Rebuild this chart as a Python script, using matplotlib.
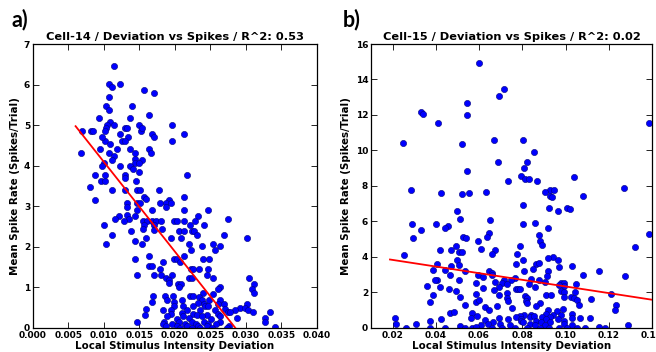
#!/usr/bin/env python3
"""Deviation vs spikes scatter, two cells"""

import numpy as np
import matplotlib
matplotlib.use('Agg')
import matplotlib.pyplot as plt

# cell-14, panel a)
cell14_x = [
  0.0114, 0.0107, 0.0123, 0.0111, 0.0157, 0.0171, 0.0107, 0.0103, 0.0107, 0.0139,
  0.0164, 0.0093, 0.0136, 0.0109, 0.0114, 0.0104, 0.0196, 0.0149, 0.0152, 0.0154,
  0.0103, 0.0102, 0.0069, 0.0081, 0.0085, 0.0129, 0.0132, 0.0122, 0.0134, 0.0126,
  0.0129, 0.0102, 0.0097, 0.0168, 0.0171, 0.0196, 0.0212, 0.0109, 0.0067, 0.0095,
  0.0107, 0.0118, 0.0136, 0.0143, 0.0164, 0.0166, 0.0114, 0.0111, 0.0144, 0.0153,
  0.0144, 0.0149, 0.0100, 0.0097, 0.0122, 0.0136, 0.0141, 0.0149, 0.0129, 0.0088,
  0.0102, 0.0129, 0.0217, 0.0096, 0.0101, 0.0145, 0.0080, 0.0111, 0.0130, 0.0146,
  0.0151, 0.0178, 0.0088, 0.0212, 0.0157, 0.0159, 0.0191, 0.0188, 0.0179, 0.0194,
  0.0146, 0.0151, 0.0132, 0.0187, 0.0132, 0.0146, 0.0167, 0.0213, 0.0246, 0.0132,
  0.0121, 0.0144, 0.0232, 0.0116, 0.0135, 0.0275, 0.0128, 0.0155, 0.0160, 0.0168,
  0.0173, 0.0181, 0.0198, 0.0203, 0.0213, 0.0228, 0.0100, 0.0157, 0.0170, 0.0221,
  0.0241, 0.0155, 0.0171, 0.0182, 0.0206, 0.0213, 0.0224, 0.0227, 0.0138, 0.0231,
  0.0111, 0.0269, 0.0302, 0.0159, 0.0195, 0.0208, 0.0143, 0.0103, 0.0154, 0.0253,
  0.0220, 0.0263, 0.0238, 0.0222, 0.0256, 0.0212, 0.0164, 0.0144, 0.0199, 0.0203,
  0.0240, 0.0248, 0.0183, 0.0207, 0.0163, 0.0168, 0.0179, 0.0223, 0.0225, 0.0234,
  0.0246, 0.0245, 0.0147, 0.0171, 0.0180, 0.0196, 0.0254, 0.0220, 0.0224, 0.0188,
  0.0191, 0.0304, 0.0311, 0.0191, 0.0204, 0.0208, 0.0206, 0.0263, 0.0260, 0.0308,
  0.0311, 0.0239, 0.0186, 0.0169, 0.0221, 0.0197, 0.0226, 0.0253, 0.0234, 0.0238,
  0.0248, 0.0263, 0.0189, 0.0210, 0.0168, 0.0199, 0.0232, 0.0241, 0.0261, 0.0269,
  0.0198, 0.0211, 0.0226, 0.0242, 0.0247, 0.0302, 0.0292, 0.0299, 0.0271, 0.0159,
  0.0183, 0.0194, 0.0217, 0.0235, 0.0256, 0.0284, 0.0303, 0.0274, 0.0277, 0.0310,
  0.0334, 0.0210, 0.0195, 0.0226, 0.0260, 0.0158, 0.0231, 0.0245, 0.0189, 0.0211,
  0.0238, 0.0263, 0.0220, 0.0203, 0.0251, 0.0327, 0.0327, 0.0146, 0.0184, 0.0206,
  0.0224, 0.0241, 0.0263, 0.0287, 0.0183, 0.0196, 0.0214, 0.0230, 0.0246, 0.0258,
  0.0188, 0.0203, 0.0217, 0.0232, 0.0245, 0.0276, 0.0341, 0.0207, 0.0224, 0.0235,
  0.0252, 0.0273,
]
cell14_y = [
  6.47, 6.01, 6.01, 5.93, 5.86, 5.78, 5.69, 5.46, 5.38, 5.46,
  5.24, 5.17, 5.17, 5.07, 5.01, 5.01, 5.01, 5.01, 4.86, 4.93,
  4.93, 4.85, 4.85, 4.85, 4.85, 4.93, 4.93, 4.77, 4.71, 4.62,
  4.62, 4.62, 4.70, 4.79, 4.71, 4.62, 4.77, 4.54, 4.31, 4.40,
  4.31, 4.40, 4.40, 4.31, 4.40, 4.31, 4.23, 4.15, 4.17, 4.15,
  4.07, 4.07, 4.07, 4.00, 4.00, 4.00, 3.92, 3.85, 3.78, 3.76,
  3.76, 3.70, 3.76, 3.62, 3.62, 3.62, 3.47, 3.39, 3.39, 3.39,
  3.39, 3.39, 3.16, 3.24, 3.24, 3.17, 3.16, 3.07, 3.07, 3.07,
  3.07, 3.07, 3.07, 2.99, 2.99, 2.92, 2.92, 2.92, 2.92, 2.79,
  2.77, 2.77, 2.77, 2.69, 2.69, 2.69, 2.63, 2.63, 2.63, 2.63,
  2.63, 2.63, 2.63, 2.63, 2.63, 2.63, 2.55, 2.55, 2.55, 2.55,
  2.55, 2.44, 2.42, 2.44, 2.38, 2.38, 2.38, 2.38, 2.38, 2.30,
  2.30, 2.30, 2.22, 2.22, 2.22, 2.22, 2.15, 2.07, 2.07, 2.07,
  2.07, 2.01, 2.01, 1.93, 1.93, 1.78, 1.77, 1.70, 1.70, 1.70,
  1.70, 1.70, 1.62, 1.62, 1.54, 1.54, 1.45, 1.45, 1.45, 1.45,
  1.45, 1.31, 1.31, 1.31, 1.31, 1.31, 1.23, 1.23, 1.23, 1.23,
  1.19, 1.23, 1.09, 1.11, 1.09, 1.09, 1.01, 1.01, 0.95, 0.95,
  0.86, 0.86, 0.78, 0.78, 0.78, 0.78, 0.78, 0.85, 0.76, 0.70,
  0.70, 0.70, 0.70, 0.70, 0.63, 0.63, 0.62, 0.58, 0.58, 0.58,
  0.53, 0.53, 0.53, 0.53, 0.53, 0.58, 0.49, 0.49, 0.48, 0.48,
  0.45, 0.45, 0.45, 0.45, 0.45, 0.45, 0.45, 0.39, 0.39, 0.39,
  0.39, 0.37, 0.35, 0.35, 0.35, 0.33, 0.33, 0.33, 0.29, 0.29,
  0.29, 0.29, 0.25, 0.22, 0.22, 0.25, 0.16, 0.16, 0.16, 0.16,
  0.16, 0.16, 0.16, 0.25, 0.11, 0.11, 0.11, 0.11, 0.11, 0.11,
  0.04, 0.04, 0.04, 0.04, 0.04, 0.04, 0.02, 0.00, 0.00, 0.00,
  0.00, 0.00,
]

# cell-15, panel b)
cell15_x = [
  0.0599, 0.0716, 0.0690, 0.0543, 0.0330, 0.0343, 0.0543, 0.0409, 0.1385, 0.0247,
  0.0670, 0.0801, 0.0522, 0.0852, 0.0821, 0.0687, 0.0809, 0.0543, 0.0793, 0.0814,
  0.0832, 0.0736, 0.0868, 0.1037, 0.1272, 0.0284, 0.0929, 0.0945, 0.0630, 0.0424,
  0.0523, 0.0552, 0.0907, 0.0929, 0.0937, 0.1079, 0.0804, 0.0925, 0.1005, 0.0963,
  0.1023, 0.0500, 0.0514, 0.0650, 0.0860, 0.0288, 0.0401, 0.0803, 0.0455, 0.0443,
  0.0330, 0.0918, 0.0295, 0.0526, 0.0540, 0.0647, 0.0638, 0.0875, 0.1388, 0.0593,
  0.0883, 0.0891, 0.0607, 0.0789, 0.0494, 0.1320, 0.0421, 0.0469, 0.0676, 0.0506,
  0.0520, 0.0254, 0.0662, 0.0775, 0.0940, 0.0918, 0.0965, 0.0500, 0.0801, 0.0404,
  0.0772, 0.0865, 0.0877, 0.0472, 0.0508, 0.1029, 0.0972, 0.0849, 0.0387, 0.0443,
  0.0809, 0.0918, 0.1156, 0.0648, 0.0537, 0.0659, 0.0662, 0.1079, 0.1274, 0.0596,
  0.0618, 0.0467, 0.0912, 0.0768, 0.0404, 0.0509, 0.0716, 0.0749, 0.0838, 0.0875,
  0.0395, 0.0676, 0.0903, 0.0585, 0.0704, 0.0729, 0.0829, 0.0980, 0.0991, 0.0995,
  0.0972, 0.1049, 0.0357, 0.0421, 0.0690, 0.0618, 0.0769, 0.0778, 0.0790, 0.0857,
  0.0980, 0.0991, 0.0461, 0.1044, 0.0494, 0.0667, 0.0729, 0.1025, 0.1037, 0.1116,
  0.1209, 0.0389, 0.0511, 0.0693, 0.0729, 0.0814, 0.0823, 0.0909, 0.0935, 0.0991,
  0.1054, 0.0585, 0.0375, 0.0585, 0.0599, 0.0732, 0.0818, 0.0823, 0.0880, 0.0682,
  0.0536, 0.1061, 0.1233, 0.1227, 0.0988, 0.0752, 0.0628, 0.0647, 0.0863, 0.0918,
  0.0959, 0.0467, 0.0486, 0.0569, 0.0590, 0.0909, 0.1030, 0.0810, 0.0841, 0.0940,
  0.0791, 0.0772, 0.0837, 0.0854, 0.0892, 0.0929, 0.0980, 0.1031, 0.1069, 0.1112,
  0.0211, 0.0423, 0.0562, 0.0690, 0.0736, 0.0792, 0.0911, 0.0963, 0.0627, 0.0373,
  0.0795, 0.0863, 0.0991, 0.0664, 0.0801, 0.0888, 0.0929, 0.0641, 0.0216, 0.0310,
  0.0610, 0.0696, 0.0742, 0.0837, 0.0860, 0.0906, 0.0991, 0.1030, 0.1289, 0.1153,
  0.0264, 0.0375, 0.0443, 0.0511, 0.0536, 0.0566, 0.0585, 0.0662, 0.0705, 0.0767,
  0.0821, 0.0883, 0.0922, 0.0968, 0.1007, 0.1053, 0.1092, 0.1184,
]
cell15_y = [
  14.93, 13.48, 13.08, 12.69, 12.16, 12.07, 11.99, 11.54, 11.54, 10.45,
  10.60, 10.60, 10.39, 9.92, 9.37, 9.37, 9.00, 8.85, 8.56, 8.38,
  8.38, 8.30, 8.30, 8.53, 7.91, 7.77, 7.77, 7.77, 7.68, 7.59,
  7.53, 7.59, 7.68, 7.44, 7.40, 7.44, 6.91, 6.76, 6.76, 6.61,
  6.68, 6.61, 6.14, 6.08, 5.89, 5.84, 5.84, 5.84, 5.74, 5.61,
  5.52, 5.61, 5.08, 5.14, 5.08, 5.38, 5.14, 5.23, 5.31, 4.89,
  4.91, 4.67, 4.46, 4.61, 4.61, 4.54, 4.42, 4.42, 4.42, 4.29,
  4.29, 4.14, 4.16, 4.16, 4.01, 3.97, 3.82, 3.82, 3.82, 3.58,
  3.63, 3.63, 3.67, 3.52, 3.54, 3.52, 3.44, 3.35, 3.29, 3.29,
  3.22, 3.22, 3.22, 3.20, 3.20, 3.11, 2.97, 2.97, 2.92, 3.01,
  2.88, 2.97, 2.92, 2.82, 2.73, 2.69, 2.73, 2.73, 2.77, 2.73,
  2.69, 2.60, 2.60, 2.54, 2.54, 2.47, 2.50, 2.54, 2.54, 2.39,
  2.43, 2.47, 2.37, 2.32, 2.32, 2.26, 2.22, 2.22, 2.22, 2.32,
  2.09, 2.03, 2.18, 2.03, 2.07, 2.13, 1.98, 1.75, 1.69, 1.66,
  1.94, 1.84, 1.75, 1.84, 1.69, 1.79, 1.69, 1.84, 1.84, 1.75,
  1.60, 1.94, 1.45, 1.47, 1.56, 1.52, 1.51, 1.41, 1.43, 1.22,
  1.28, 1.28, 1.28, 1.04, 1.07, 1.15, 1.17, 1.00, 1.24, 1.00,
  0.96, 0.87, 0.90, 0.87, 0.68, 0.81, 0.81, 0.72, 0.72, 0.72,
  0.68, 0.62, 0.62, 0.68, 0.62, 0.62, 0.72, 0.58, 0.58, 0.58,
  0.58, 0.53, 0.56, 0.58, 0.53, 0.53, 0.53, 0.53, 0.43, 0.38,
  0.40, 0.40, 0.40, 0.32, 0.32, 0.32, 0.32, 0.24, 0.21, 0.21,
  0.19, 0.21, 0.15, 0.21, 0.15, 0.15, 0.21, 0.15, 0.15, 0.06,
  0.00, 0.00, 0.00, 0.09, 0.00, 0.00, 0.06, 0.00, 0.00, 0.00,
  0.00, 0.00, 0.00, 0.00, 0.00, 0.00, 0.00, 0.00,
]

# linear fits
fit14_x = [0.0060, 0.0341]
fit14_coef = (-221.0, 6.30)
fit15_x = [0.0188, 0.1397]
fit15_coef = (-18.7, 4.21)

titles = ['Cell-14 / Deviation vs Spikes / R^2: 0.53',
          'Cell-15 / Deviation vs Spikes / R^2: 0.02']
panel_tags = ['a)', 'b)']
x_label = 'Local Stimulus Intensity Deviation'
y_label = 'Mean Spike Rate (Spikes/Trial)'


def draw_panel(ax, xs, ys, fit_x, fit_coef, title, xlim, ylim, xticks, yticks, xfmt):
  ax.scatter(xs, ys, s=20, c='#0000ff', edgecolors='#00007a', linewidths=0.4, zorder=2)
  fx = np.array(fit_x)
  ax.plot(fx, np.polyval(fit_coef, fx), color='red', linewidth=1.3, zorder=3)
  ax.set_xlim(*xlim)
  ax.set_ylim(*ylim)
  ax.set_xticks(xticks)
  ax.set_yticks(yticks)
  ax.set_xticklabels([xfmt.format(t) for t in xticks], fontweight='bold')
  ax.set_yticklabels(['{:d}'.format(int(t)) for t in yticks], fontweight='bold')
  ax.tick_params(direction='in', length=4, width=0.6, labelsize=6.5,
                 top=True, right=True, pad=2)
  for sp in ax.spines.values():
    sp.set_linewidth(0.9)
  ax.set_title(title, fontsize=8.2, fontweight='bold', pad=3)
  ax.set_xlabel(x_label, fontsize=7.4, fontweight='bold', labelpad=1)
  ax.set_ylabel(y_label, fontsize=7.4, fontweight='bold', labelpad=3)


fig = plt.figure(figsize=(6.56, 3.52), dpi=100)
ax_a = fig.add_axes([0.0503, 0.0682, 0.4329, 0.8068])
ax_b = fig.add_axes([0.5655, 0.0682, 0.4284, 0.8068])

draw_panel(ax_a, cell14_x, cell14_y, fit14_x, fit14_coef, titles[0],
           (0.0, 0.04), (0, 7), np.arange(0, 0.0401, 0.005), np.arange(0, 8, 1), '{:.3f}')
draw_panel(ax_b, cell15_x, cell15_y, fit15_x, fit15_coef, titles[1],
           (0.01, 0.14), (0, 16), np.arange(0.02, 0.1401, 0.02), np.arange(0, 17, 2), '{:.2f}')

fig.text(0.018, 0.925, panel_tags[0], fontsize=15.5, fontweight='bold', family='Lato')
fig.text(0.522, 0.925, panel_tags[1], fontsize=15.5, fontweight='bold', family='Lato')

fig.savefig('out.png', dpi=100)
